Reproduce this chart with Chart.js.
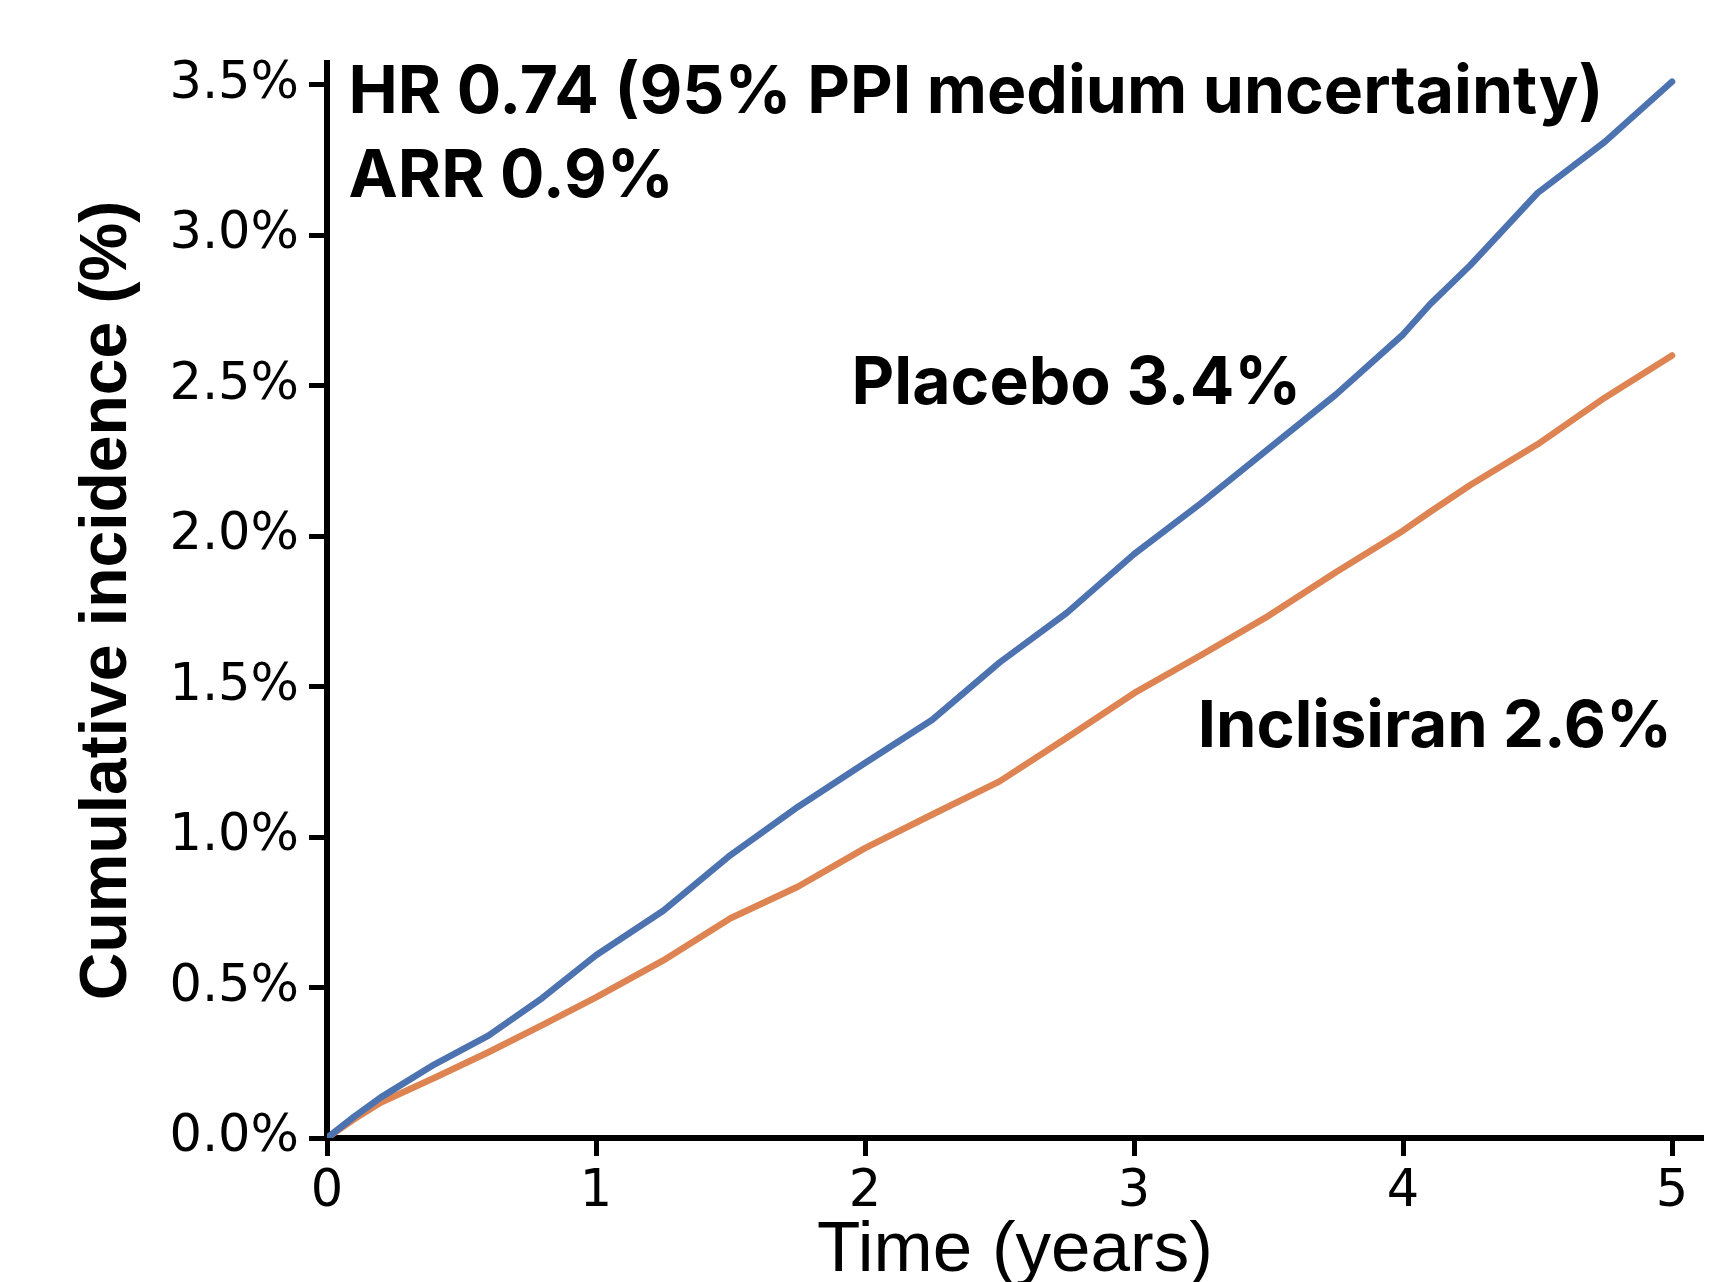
<!DOCTYPE html>
<html>
<head>
<meta charset="utf-8">
<script src="https://cdn.jsdelivr.net/npm/chart.js@4.4.1/dist/chart.umd.min.js"></script>
<style>
  html, body { margin: 0; padding: 0; background: #fff; }
  #wrap { width: 1735px; height: 1282px; }
</style>
</head>
<body>
<div id="wrap"><canvas id="km" width="1735" height="1282"></canvas></div>
<script>
// ─── Data ────────────────────────────────────────────────────
const years = [0, 0.1, 0.2, 0.4, 0.6, 0.8, 1, 1.25, 1.5, 1.75, 2, 2.25, 2.5, 2.75,
  3, 3.25, 3.5, 3.75, 4, 4.1, 4.25, 4.5, 4.75, 5];
const placebo = [0, 0.07, 0.135, 0.245, 0.34, 0.465, 0.607, 0.755, 0.94, 1.1, 1.246,
  1.39, 1.58, 1.745, 1.94, 2.11, 2.29, 2.47, 2.67, 2.77, 2.9, 3.14, 3.31, 3.51];
const inclisiran = [0, 0.062, 0.118, 0.2, 0.285, 0.375, 0.467, 0.59, 0.73, 0.835, 0.963,
  1.075, 1.185, 1.33, 1.478, 1.605, 1.735, 1.88, 2.018, 2.08, 2.17, 2.305, 2.46, 2.6];
const xTicks = [0, 1, 2, 3, 4, 5];
const yTicks = [0, 0.5, 1, 1.5, 2, 2.5, 3, 3.5];

// annotation texts, anchored in data units
const notes = [
  { text: "HR 0.74 (95% PPI medium uncertainty)", x: 0.08, y: 3.405, align: "left" },
  { text: "ARR 0.9%", x: 0.08, y: 3.128, align: "left" },
  { text: "Placebo 3.4%", x: 1.95, y: 2.44, align: "left" },
  { text: "Inclisiran 2.6%", x: 5.0, y: 1.30, align: "right" },
];

const BLUE = "#4c72b0";
const ORANGE = "#dd8452";

const notesPlugin = {
  id: "notes",
  afterDatasetsDraw(chart) {
    const { ctx, scales } = chart;
    ctx.save();
    ctx.fillStyle = "#000";
    ctx.textBaseline = "alphabetic";
    notes.forEach((n) => {
      // the right-hand labels run a touch narrower in the reference
      ctx.font = (n.align === "right" ? "bold 65px " : "bold 66px ") + "Inter, 'Open Sans', sans-serif";
      ctx.textAlign = n.align;
      ctx.fillText(n.text, scales.x.getPixelForValue(n.x), scales.y.getPixelForValue(n.y));
    });
    ctx.restore();
  },
};

const axisCommon = {
  border: { display: true, color: "#000", width: 6 },
  grid: {
    display: true,
    drawOnChartArea: false,
    drawTicks: true,
    tickLength: 18,
    tickWidth: 5,
    tickColor: "#000",
  },
};

new Chart(document.getElementById("km").getContext("2d"), {
  type: "line",
  data: {
    labels: years,
    datasets: [
      {
        label: "Placebo",
        data: years.map((t, i) => ({ x: t, y: placebo[i] })),
        borderColor: BLUE,
        borderWidth: 6.5,
        pointRadius: 0,
        tension: 0,
        borderCapStyle: "round",
        borderJoinStyle: "round",
      },
      {
        label: "Inclisiran",
        data: years.map((t, i) => ({ x: t, y: inclisiran[i] })),
        borderColor: ORANGE,
        borderWidth: 6.5,
        pointRadius: 0,
        tension: 0,
        borderCapStyle: "round",
        borderJoinStyle: "round",
      },
    ],
  },
  options: {
    responsive: false,
    animation: false,
    devicePixelRatio: 1,
    layout: { padding: { left: 0, right: 32, top: 63, bottom: 0 } },
    plugins: { legend: { display: false }, tooltip: { enabled: false } },
    scales: {
      x: {
        ...axisCommon,
        type: "linear",
        min: 0,
        max: 5.115,
        afterBuildTicks: (s) => { s.ticks = xTicks.map((v) => ({ value: v })); },
        afterFit: (s) => { s.height = 144; },
        ticks: {
          color: "#000",
          padding: 6,
          font: { family: "'DejaVu Sans'", size: 51 },
          callback: (v) => String(v),
        },
        title: {
          display: true,
          text: "Time (years)",
          color: "#000",
          font: { family: "'Liberation Sans'", size: 71, lineHeight: 0.8 },
          padding: { top: 0, bottom: 2 },
        },
      },
      y: {
        ...axisCommon,
        min: 0,
        max: 3.572,
        afterBuildTicks: (s) => { s.ticks = yTicks.map((v) => ({ value: v })); },
        afterFit: (s) => { s.width = 327; },
        ticks: {
          color: "#000",
          padding: 10,
          font: { family: "'DejaVu Sans'", size: 51 },
          callback: (v) => v.toFixed(1) + "%",
        },
        title: {
          display: true,
          text: "Cumulative incidence (%)",
          color: "#000",
          font: { family: "'Liberation Sans'", size: 66, weight: "bold", lineHeight: 0.8 },
          padding: { top: 81, bottom: 0 },
        },
      },
    },
  },
  plugins: [notesPlugin],
});
</script>
</body>
</html>
